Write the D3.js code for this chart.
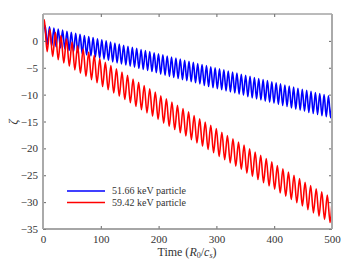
<!DOCTYPE html>
<html>
<head>
<meta charset="utf-8">
<script src="https://cdn.jsdelivr.net/npm/d3@7"></script>
<style>
  body { margin: 0; background: #fff; }
  text { font-family: "Liberation Serif", "DejaVu Serif", serif; fill: #333; }
</style>
</head>
<body>
<svg width="355" height="266"></svg>
<script>
// extrema of zeta(t) (peaks / troughs)
const blueT = [0, 3.8, 7.5, 11.3, 15.1, 18.9, 22.6, 26.4, 30.2, 33.9, 37.7, 41.5, 45.2, 49.0, 52.8, 56.6, 60.3, 64.1, 67.9, 71.6, 75.4, 79.2, 82.9, 86.7, 90.5, 94.3, 98.0, 101.8, 105.6, 109.3, 113.1, 116.9, 120.6, 124.4, 128.2, 132.0, 135.7, 139.5, 143.3, 147.0, 150.8, 154.6, 158.3, 162.1, 165.9, 169.7, 173.4, 177.2, 181.0, 184.7, 188.5, 192.3, 196.0, 199.8, 203.6, 207.4, 211.1, 214.9, 218.7, 222.4, 226.2, 230.0, 233.7, 237.5, 241.3, 245.1, 248.8, 252.6, 256.4, 260.1, 263.9, 267.7, 271.4, 275.2, 279.0, 282.8, 286.5, 290.3, 294.1, 297.8, 301.6, 305.4, 309.1, 312.9, 316.7, 320.5, 324.2, 328.0, 331.8, 335.5, 339.3, 343.1, 346.8, 350.6, 354.4, 358.2, 361.9, 365.7, 369.5, 373.2, 377.0, 380.8, 384.5, 388.3, 392.1, 395.9, 399.6, 403.4, 407.2, 410.9, 414.7, 418.5, 422.2, 426.0, 429.8, 433.6, 437.3, 441.1, 444.9, 448.6, 452.4, 456.2, 459.9, 463.7, 467.5, 471.3, 475.0, 478.8, 482.6, 486.3, 490.1, 493.9, 497.6, 500];
const blueZeta = [1.0, 2.8, -0.7, 2.6, -0.9, 2.4, -1.1, 2.2, -1.3, 2.0, -1.5, 1.8, -1.8, 1.6, -2.0, 1.4, -2.2, 1.2, -2.4, 1.0, -2.6, 0.8, -2.8, 0.6, -3.0, 0.4, -3.2, 0.2, -3.4, 0.0, -3.6, -0.2, -3.9, -0.4, -4.1, -0.6, -4.3, -0.8, -4.5, -1.0, -4.7, -1.2, -4.9, -1.4, -5.1, -1.6, -5.3, -1.8, -5.5, -2.0, -5.7, -2.2, -5.9, -2.4, -6.2, -2.6, -6.4, -2.8, -6.6, -3.0, -6.8, -3.2, -7.0, -3.4, -7.2, -3.6, -7.4, -3.8, -7.6, -4.0, -7.8, -4.2, -8.0, -4.4, -8.3, -4.6, -8.5, -4.8, -8.7, -5.0, -8.9, -5.2, -9.1, -5.4, -9.3, -5.6, -9.5, -5.8, -9.7, -6.0, -9.9, -6.2, -10.1, -6.4, -10.4, -6.6, -10.6, -6.8, -10.8, -7.0, -11.0, -7.2, -11.2, -7.4, -11.4, -7.6, -11.6, -7.8, -11.8, -8.0, -12.0, -8.2, -12.2, -8.4, -12.5, -8.6, -12.7, -8.8, -12.9, -9.0, -13.1, -9.2, -13.3, -9.4, -13.5, -9.6, -13.7, -9.8, -13.9, -10.0, -14.1, -10.2, -14.3, -11.6];

const redT = [0, 2.3, 7.1, 11.9, 16.7, 21.5, 26.3, 31.1, 35.9, 40.7, 45.5, 50.3, 55.1, 59.9, 64.7, 69.5, 74.3, 79.1, 83.9, 88.7, 93.5, 98.3, 103.1, 107.9, 112.7, 117.5, 122.3, 127.1, 131.9, 136.7, 141.5, 146.3, 151.1, 155.9, 160.7, 165.5, 170.3, 175.1, 179.9, 184.7, 189.5, 194.3, 199.1, 203.9, 208.7, 213.5, 218.3, 223.1, 227.9, 232.7, 237.5, 242.3, 247.1, 251.9, 256.7, 261.5, 266.3, 271.1, 275.9, 280.7, 285.5, 290.3, 295.1, 299.9, 304.7, 309.5, 314.3, 319.1, 323.9, 328.7, 333.5, 338.3, 343.1, 347.9, 352.7, 357.5, 362.3, 367.1, 371.9, 376.7, 381.5, 386.3, 391.1, 395.9, 400.7, 405.5, 410.3, 415.1, 419.9, 424.7, 429.5, 434.3, 439.1, 443.9, 448.7, 453.5, 458.3, 463.1, 467.9, 472.7, 477.5, 482.3, 487.1, 491.9, 496.7, 500];
const redZeta = [1.8, 3.9, -2.0, 2.2, -2.9, 1.6, -3.5, 1.0, -4.1, 0.4, -4.7, -0.2, -5.4, -0.9, -6.0, -1.5, -6.6, -2.1, -7.2, -2.7, -7.8, -3.3, -8.5, -4.0, -9.1, -4.6, -9.7, -5.2, -10.3, -5.8, -10.9, -6.4, -11.5, -7.1, -12.2, -7.7, -12.8, -8.3, -13.4, -8.9, -14.0, -9.5, -14.6, -10.2, -15.3, -10.8, -15.9, -11.4, -16.5, -12.0, -17.1, -12.6, -17.7, -13.2, -18.4, -13.9, -19.0, -14.5, -19.6, -15.1, -20.2, -15.7, -20.8, -16.3, -21.5, -17.0, -22.1, -17.6, -22.7, -18.2, -23.3, -18.8, -23.9, -19.4, -24.6, -20.1, -25.2, -20.7, -25.8, -21.3, -26.4, -21.9, -27.0, -22.5, -27.6, -23.2, -28.3, -23.8, -28.9, -24.4, -29.5, -25.0, -30.1, -25.6, -30.7, -26.3, -31.4, -26.9, -32.0, -27.5, -32.6, -28.1, -33.2, -28.7, -33.8, -30.0];

const seriesNames = ["51.66 keV particle", "59.42 keV particle"];
const seriesColors = ["#0000ff", "#ff0000"];
const xTicks = [0, 100, 200, 300, 400, 500];
const yTicks = [0, -5, -10, -15, -20, -25, -30, -35];

let svg = d3.select("svg"),
    margin = {left: 43, right: 23, top: 14, bottom: 37},
    width = 355 - margin.left - margin.right,
    height = 266 - margin.top - margin.bottom;

let x = d3.scaleLinear().domain([0, 500]).range([0, width]);
let y = d3.scaleLinear().domain([-35, 5]).range([height, 0]);

let g = svg.append("g").attr("transform", "translate(" + margin.left + "," + margin.top + ")");

g.append("clipPath").attr("id", "clip")
    .append("rect").attr("width", width).attr("height", height);

let line = d3.line()
    .curve(d3.curveMonotoneX)
    .x(function (d) { return x(d[0]); })
    .y(function (d) { return y(d[1]); });

let series = [d3.zip(blueT, blueZeta), d3.zip(redT, redZeta)];

g.selectAll(".trace")
    .data(series)
    .enter().append("path")
    .attr("class", "trace")
    .attr("clip-path", "url(#clip)")
    .attr("fill", "none")
    .attr("stroke", function (d, i) { return seriesColors[i]; })
    .attr("stroke-width", 1.6)
    .attr("stroke-linejoin", "round")
    .attr("d", line);

// axes, matlab style box with inward ticks
function styleAxis(sel) {
    sel.select(".domain").remove();
    sel.selectAll(".tick line").attr("stroke", "#666");
    sel.selectAll(".tick text").style("font-size", "11px")
        .style("font-family", "Liberation Serif, serif").attr("fill", "#333");
}

g.append("g").attr("transform", "translate(0," + height + ")")
    .call(d3.axisBottom(x).tickValues(xTicks).tickSizeInner(-3).tickSizeOuter(0).tickPadding(6))
    .call(styleAxis);
g.append("g")
    .call(d3.axisTop(x).tickValues(xTicks).tickSizeInner(-3).tickSizeOuter(0).tickFormat(""))
    .call(styleAxis);
g.append("g")
    .call(d3.axisLeft(y).tickValues(yTicks).tickSizeInner(-3).tickSizeOuter(0).tickPadding(5))
    .call(styleAxis);
g.append("g").attr("transform", "translate(" + width + ",0)")
    .call(d3.axisRight(y).tickValues(yTicks).tickSizeInner(-3).tickSizeOuter(0).tickFormat(""))
    .call(styleAxis);

// frame
g.append("line").attr("x1", 0).attr("x2", width).attr("y1", 0).attr("y2", 0)
    .attr("stroke", "#777").attr("stroke-width", 1);
g.append("line").attr("x1", 0).attr("x2", width).attr("y1", height).attr("y2", height)
    .attr("stroke", "#888").attr("stroke-width", 1.3);
g.append("line").attr("x1", 0).attr("x2", 0).attr("y1", 0).attr("y2", height)
    .attr("stroke", "#aaa").attr("stroke-width", 2);
g.append("line").attr("x1", width).attr("x2", width).attr("y1", 0).attr("y2", height)
    .attr("stroke", "#aaa").attr("stroke-width", 2);

// axis labels
let xl = svg.append("text")
    .attr("x", 187).attr("y", 256)
    .attr("text-anchor", "middle")
    .style("font-size", "12px");
xl.append("tspan").text("Time (");
xl.append("tspan").style("font-style", "italic").text("R");
xl.append("tspan").attr("dy", 2).style("font-size", "8px").text("0");
xl.append("tspan").attr("dy", -2).text("/");
xl.append("tspan").style("font-style", "italic").text("c");
xl.append("tspan").attr("dy", 2).style("font-size", "8px").style("font-style", "italic").text("s");
xl.append("tspan").attr("dy", -2).text(")");

svg.append("text")
    .attr("transform", "translate(17,122) rotate(-90)")
    .attr("text-anchor", "middle")
    .style("font-size", "13px")
    .style("font-style", "italic")
    .text("ζ");

// legend
let legend = svg.append("g").attr("transform", "translate(67,191)");
let item = legend.selectAll(".item")
    .data(seriesNames)
    .enter().append("g")
    .attr("class", "item")
    .attr("transform", function (d, i) { return "translate(0," + (i * 11.5) + ")"; });
item.append("line")
    .attr("x1", 0).attr("x2", 38)
    .attr("stroke", function (d, i) { return seriesColors[i]; })
    .attr("stroke-width", 1.6);
item.append("text")
    .attr("x", 45).attr("dy", "0.32em")
    .style("font-size", "10px")
    .attr("fill", "#222")
    .text(function (d) { return d; });
</script>
</body>
</html>
